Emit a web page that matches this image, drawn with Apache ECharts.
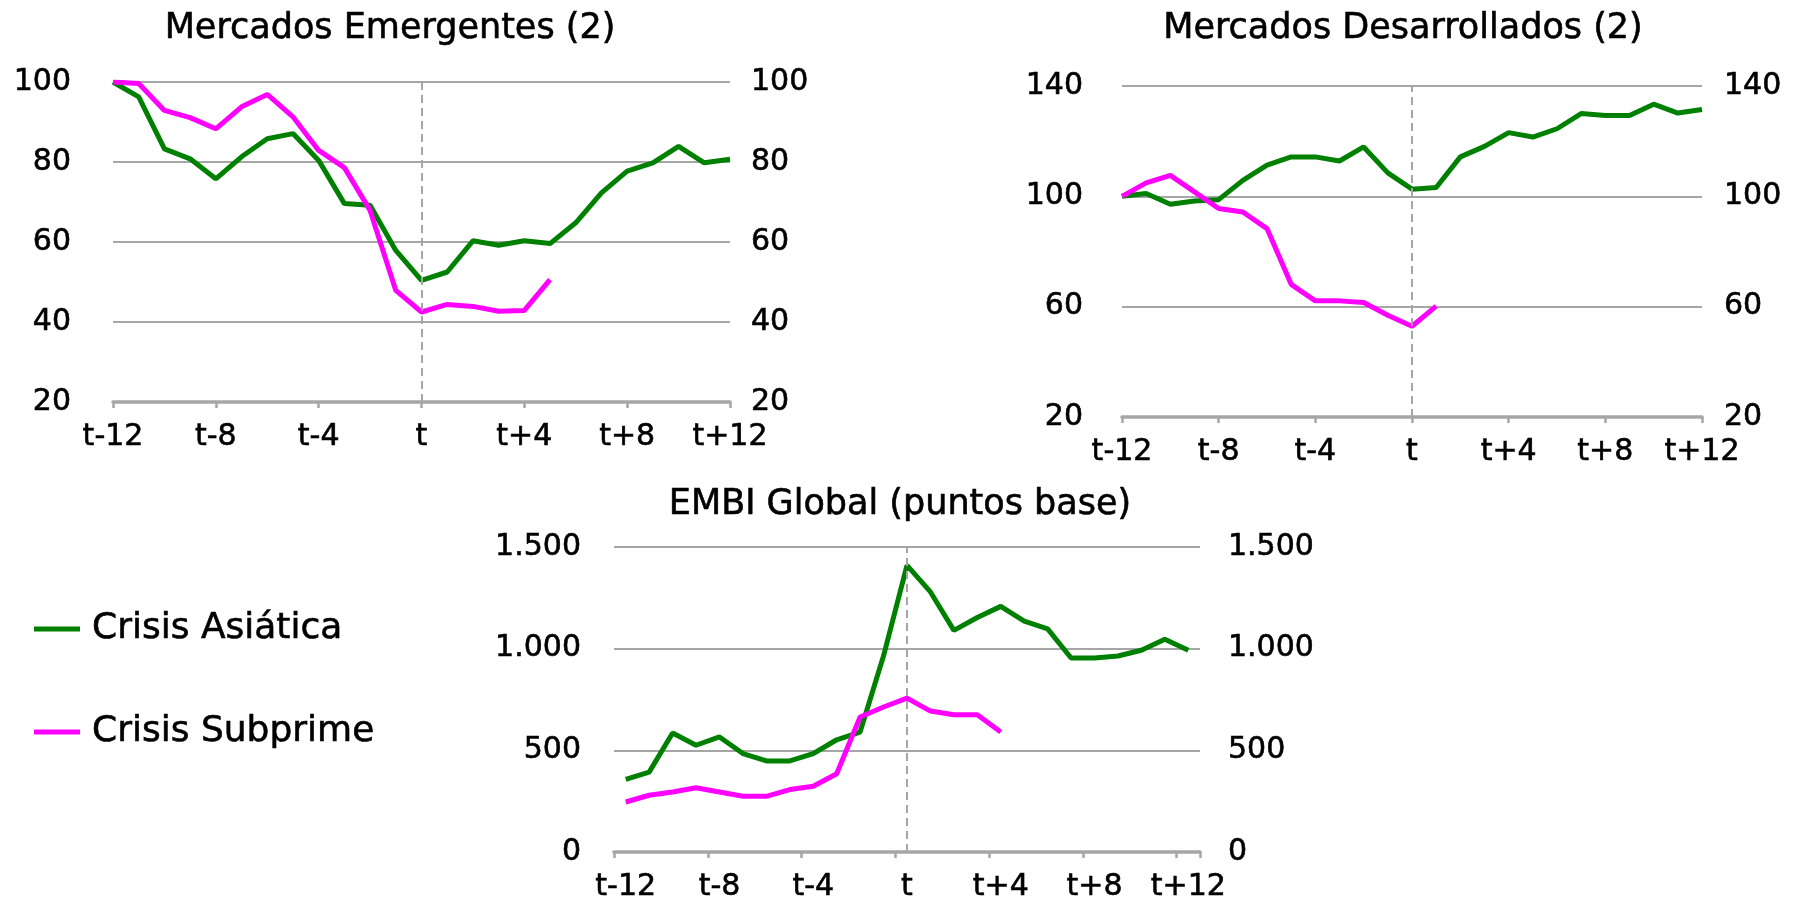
<!DOCTYPE html>
<html>
<head>
<meta charset="utf-8">
<script src="https://cdn.jsdelivr.net/npm/echarts@6/dist/echarts.min.js"></script>
<style>
  html, body { margin: 0; padding: 0; background: #fff; }
  #chart { width: 1797px; height: 897px; }
</style>
</head>
<body>
<div id="chart"></div>
<script>
// meses alrededor del inicio de la crisis
const months = [
  "t-12", "t-11", "t-10", "t-9", "t-8", "t-7", "t-6", "t-5", "t-4", "t-3", "t-2", "t-1",
  "t", "t+1", "t+2", "t+3", "t+4", "t+5", "t+6", "t+7", "t+8", "t+9", "t+10", "t+11", "t+12"
];

// Mercados Emergentes (indice t-12 = 100)
const emergAsia = [100, 96.3, 83.3, 80.8, 75.8, 81.3, 85.8, 87.1, 80.4, 69.6, 69.2, 57.9, 50.4,
  52.5, 60.3, 59.2, 60.3, 59.6, 64.8, 72.3, 77.7, 79.8, 83.9, 79.8, 80.7];
const emergSub = [100, 99.6, 92.9, 91.1, 88.3, 93.8, 96.9, 91.3, 82.9, 78.6, 67.9, 47.9, 42.5,
  44.4, 43.9, 42.7, 42.9, 50.6];

// Mercados Desarrollados (indice t-12 = 100)
const devAsia = [100, 101, 97.1, 98.3, 98.8, 105.8, 111.3, 114.3, 114.3, 112.8, 117.9, 108.5, 102.6,
  103.2, 114.3, 118.1, 123.1, 121.5, 124.5, 130, 129.3, 129.3, 133.4, 130.2, 131.5];
const devSub = [100, 104.9, 107.6, 101.6, 95.6, 94.3, 88.3, 68.1, 62.1, 62.1, 61.5, 56.9, 52.9, 60.2];

// EMBI Global (puntos base)
const embiAsia = [357, 393, 585, 525, 566, 484, 448, 448, 484, 552, 590, 965, 1410,
  1279, 1090, 1153, 1208, 1136, 1097, 954, 954, 964, 992, 1046, 992];
const embiSub = [246, 279, 295, 316, 295, 274, 274, 307, 323, 385, 664, 713, 757,
  693, 675, 675, 590];

const seriesNames = ["Crisis Asiática", "Crisis Subprime"];
const GREEN = "#008000";
const MAGENTA = "#FF00FF";
const GRAY = "#A6A6A6";
const FONT = "DejaVu Sans";

// texto un poco mas grueso, como en el original
const txt = (size) => ({
  fontSize: size,
  color: "#000",
  fontFamily: FONT,
  textBorderColor: "#000",
  textBorderWidth: 0.6,
});

const thousands = (v) => String(v).replace(/\B(?=(\d{3})+(?!\d))/g, ".");

const makeX = (gridIndex, boundaryGap) => ({
  type: "category",
  gridIndex: gridIndex,
  data: months,
  boundaryGap: boundaryGap,
  axisLine: { show: true, onZero: false, lineStyle: { color: GRAY, width: 3.5 } },
  axisTick: { show: true, interval: 3, length: 6, lineStyle: { color: GRAY, width: 2.5 } },
  axisLabel: { interval: 3, margin: 20, ...txt(30) },
  splitLine: { show: false },
});

const makeY = (gridIndex, min, max, interval, position, margin, fmt) => ({
  type: "value",
  gridIndex: gridIndex,
  position: position,
  min: min,
  max: max,
  interval: interval,
  axisLine: { show: false },
  axisTick: { show: false },
  axisLabel: { margin: margin, formatter: fmt, ...txt(30) },
  splitLine: { show: position === "left", lineStyle: { color: GRAY, width: 2 } },
});

const dashLine = {
  silent: true,
  symbol: ["none", "none"],
  label: { show: false },
  lineStyle: { type: [8, 5], color: GRAY, width: 2 },
  data: [{ xAxis: "t" }],
};

const makeSeries = (name, color, data, idx, withMark) => {
  const s = {
    name: name,
    type: "line",
    xAxisIndex: idx,
    yAxisIndex: idx * 2,
    data: data,
    symbol: "none",
    lineStyle: { color: color, width: 5 },
    itemStyle: { color: color },
  };
  if (withMark) s.markLine = dashLine;
  return s;
};

const chart = echarts.init(document.getElementById("chart"));
chart.setOption({
  animation: false,
  backgroundColor: "#fff",
  title: [
    { text: "Mercados Emergentes (2)", left: 390, top: 11 },
    { text: "Mercados Desarrollados (2)", left: 1403, top: 11 },
    { text: "EMBI Global (puntos base)", left: 900, top: 487 },
  ].map((t) => ({
    ...t,
    padding: 0,
    textAlign: "center",
    textStyle: { fontWeight: "normal", ...txt(35) },
  })),
  legend: {
    orient: "vertical",
    left: 29,
    top: 604,
    itemWidth: 46,
    itemHeight: 5,
    itemGap: 63,
    icon: "rect",
    data: seriesNames,
    textStyle: { lineHeight: 40, padding: [0, 0, 0, 7], ...txt(36) },
  },
  grid: [
    { left: 113, top: 82, width: 617, height: 320, containLabel: false, outerBoundsMode: "none" },
    { left: 1122, top: 86, width: 580, height: 331, containLabel: false, outerBoundsMode: "none" },
    { left: 614, top: 547, width: 586, height: 305, containLabel: false, outerBoundsMode: "none" },
  ],
  xAxis: [makeX(0, false), makeX(1, false), makeX(2, true)],
  yAxis: [
    makeY(0, 20, 100, 20, "left", 42),
    makeY(0, 20, 100, 20, "right", 21),
    makeY(1, 20, 140, 40, "left", 39),
    makeY(1, 20, 140, 40, "right", 22),
    makeY(2, 0, 1500, 500, "left", 33, thousands),
    makeY(2, 0, 1500, 500, "right", 28, thousands),
  ],
  series: [
    makeSeries(seriesNames[0], GREEN, emergAsia, 0, true),
    makeSeries(seriesNames[1], MAGENTA, emergSub, 0, false),
    makeSeries(seriesNames[0], GREEN, devAsia, 1, true),
    makeSeries(seriesNames[1], MAGENTA, devSub, 1, false),
    makeSeries(seriesNames[0], GREEN, embiAsia, 2, true),
    makeSeries(seriesNames[1], MAGENTA, embiSub, 2, false),
  ],
});
</script>
</body>
</html>
